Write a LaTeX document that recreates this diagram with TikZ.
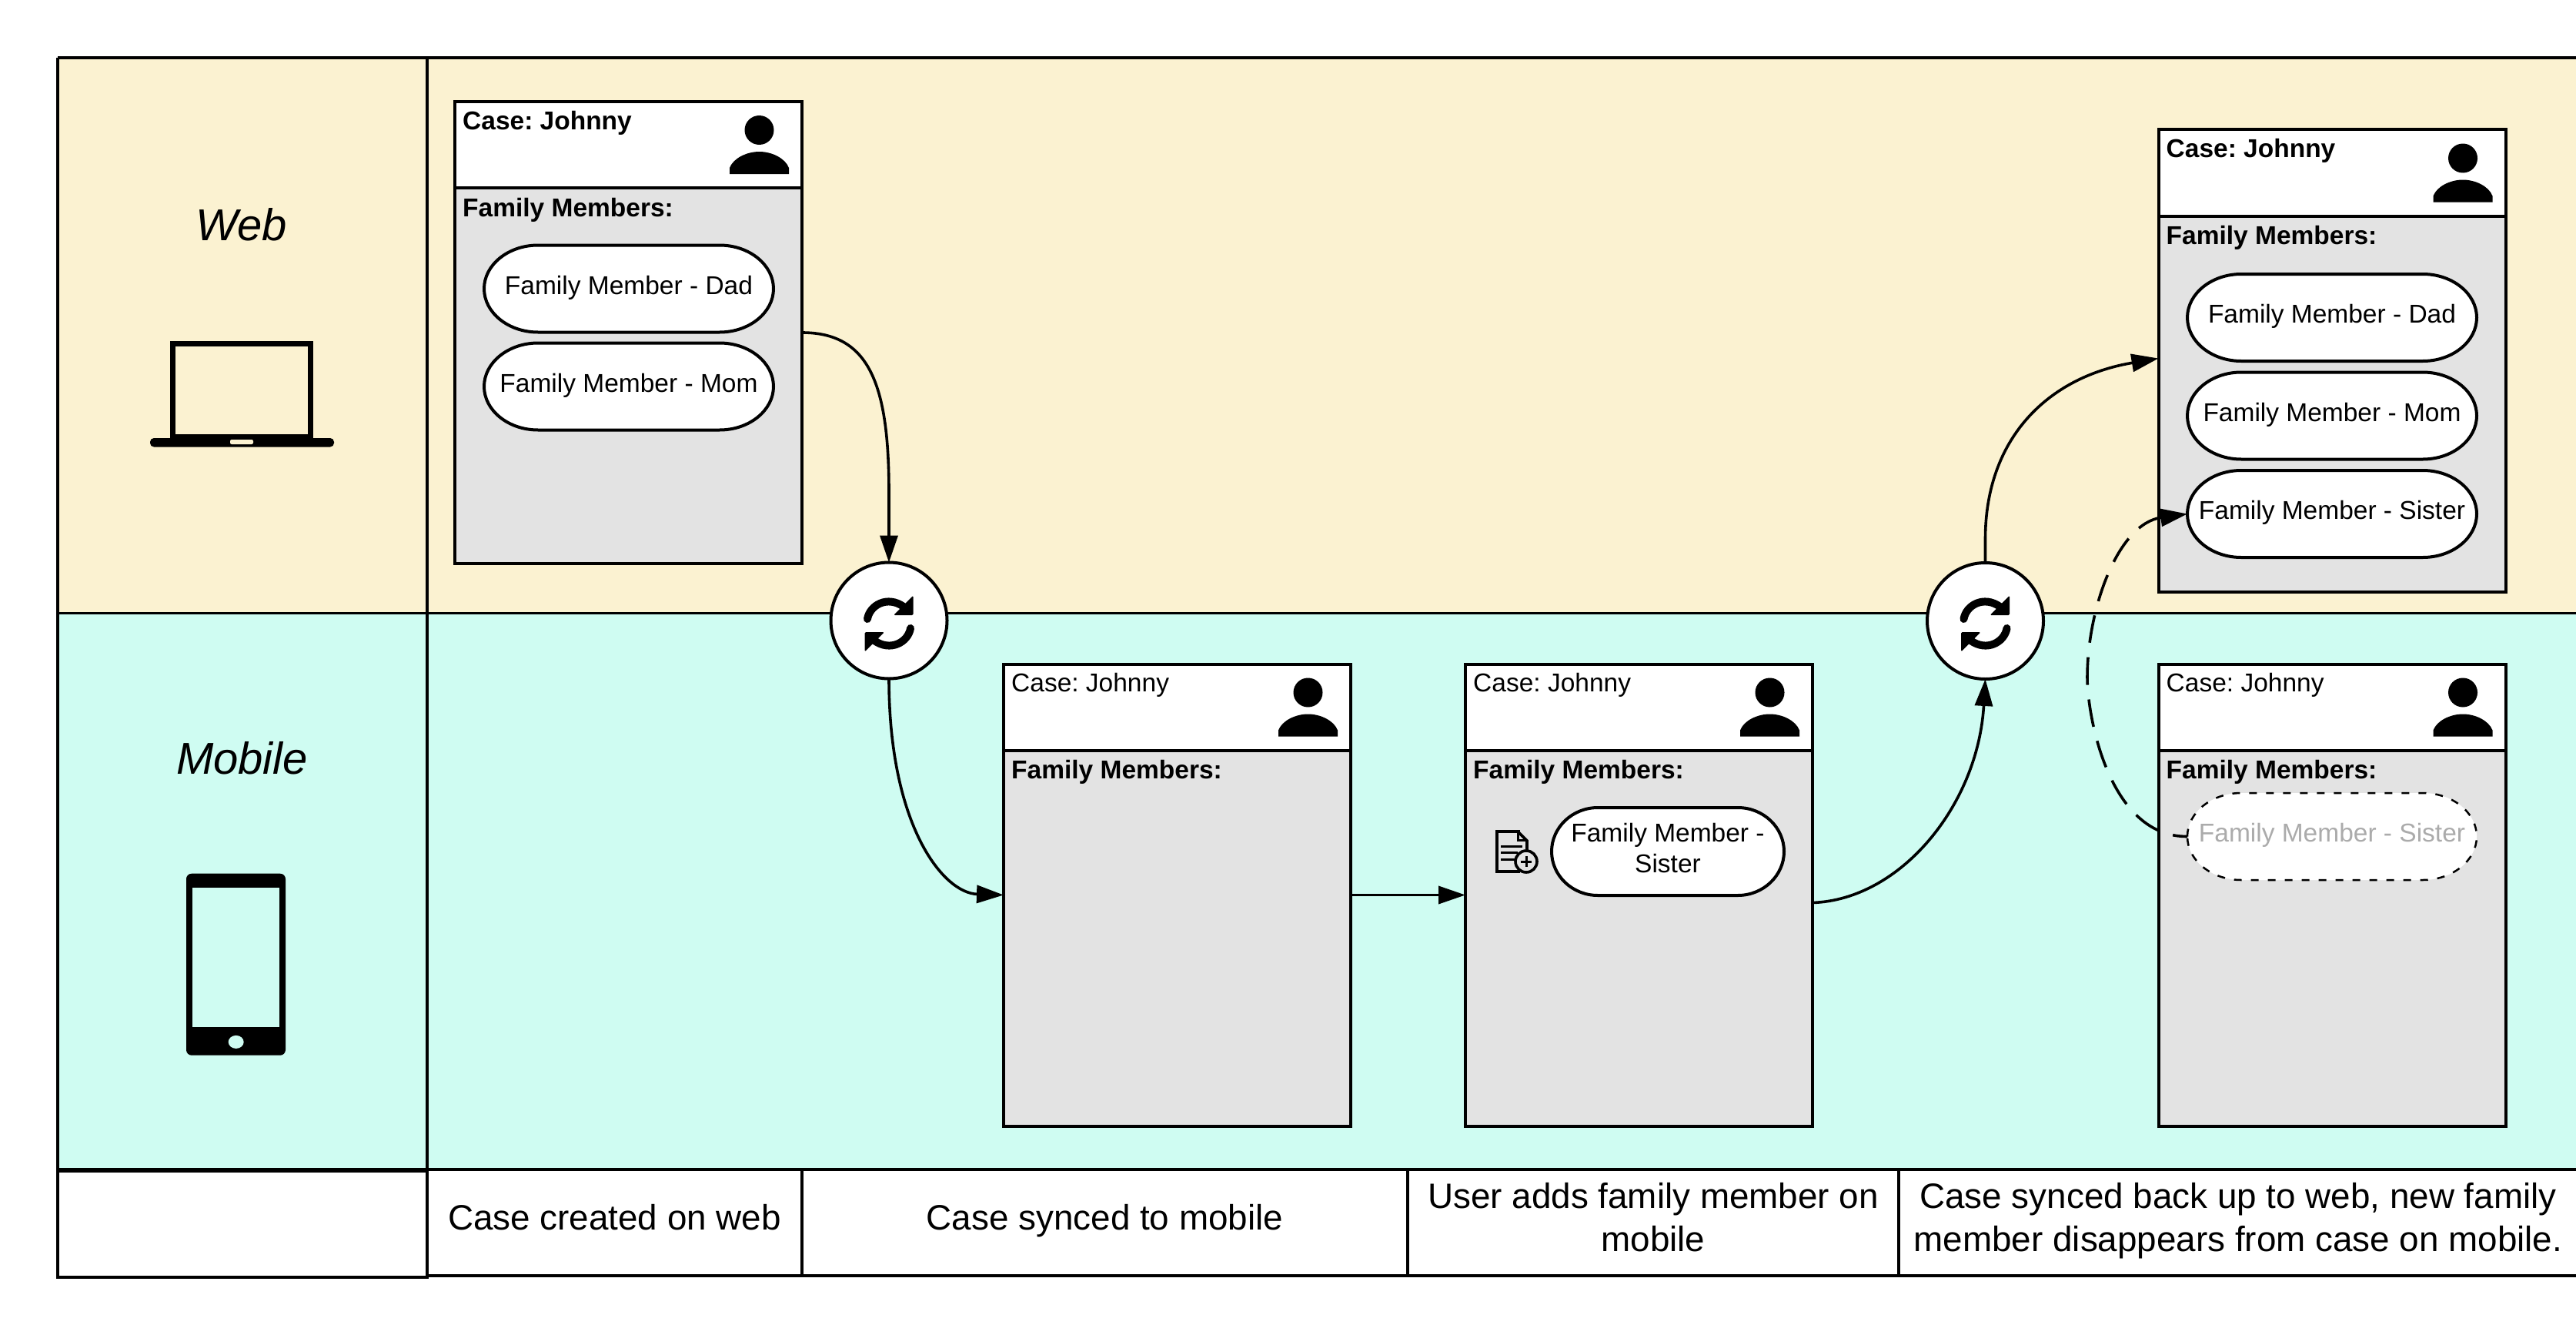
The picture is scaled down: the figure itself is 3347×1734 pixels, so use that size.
\documentclass[tikz,border=0pt]{standalone}
\usepackage{fontspec}
\setmainfont{Liberation Sans}
\frenchspacing
\usetikzlibrary{arrows.meta,calc}
\definecolor{webbg}{HTML}{FBF2D1}
\definecolor{mobbg}{HTML}{CFFCF2}
\definecolor{cardgray}{HTML}{E3E3E3}
\definecolor{ghost}{HTML}{ABABAB}
\newcommand\smallfont{\fontsize{33.5pt}{40pt}\selectfont}
\newcommand\capfont{\fontsize{45.8pt}{56pt}\selectfont}
\newcommand\lanefont{\fontsize{58pt}{68pt}\selectfont\itshape}
\tikzset{
  x=1pt,y=-1pt,
  lane/.style={line width=3.5pt},
  cardbox/.style={draw=black,line width=4pt,fill=cardgray,minimum width=451pt,minimum height=600pt,inner sep=0pt,outer sep=0pt},
  cardhead/.style={draw=black,line width=4pt,fill=white,minimum width=451pt,minimum height=112pt,inner sep=0pt,outer sep=0pt},
  cardtext/.style={anchor=base west,inner sep=0pt,font=\smallfont},
  pilledge/.style={draw=black,line width=4pt,fill=white},
  ghostedge/.style={draw=black,line width=2.5pt,dash pattern=on 10pt off 12pt,fill=white},
  pilltext/.style={inner sep=0pt,outer sep=0pt,font=\smallfont,text height=24pt,text depth=10pt,align=center},
  syncnode/.style={circle,draw=black,line width=4pt,fill=white,minimum size=151pt,inner sep=0pt,outer sep=0pt},
  conn/.style={line width=3.6pt,-{Triangle[length=35pt,width=23pt]}},
  dashconn/.style={conn,dash pattern=on 36pt off 19pt,dash phase=17pt},
  capcell/.style={draw=black,line width=4pt,fill=white,inner sep=0pt,outer sep=0pt,font=\capfont,align=center,minimum height=138pt,text height=33pt,text depth=15pt},
  capcelltwo/.style={capcell,text height=,text depth=},
}
% name, cx, cy, half width, half height, corner x radius, edge style, text options, text
\newcommand\pillnode[9]{%
  \path[#7] (#2-#4,#3) .. controls (#2-#4,#3-0.55*#5) and (#2-#4+0.45*#6,#3-#5) .. (#2-#4+#6,#3-#5)
    -- (#2+#4-#6,#3-#5) .. controls (#2+#4-0.45*#6,#3-#5) and (#2+#4,#3-0.55*#5) .. (#2+#4,#3)
    .. controls (#2+#4,#3+0.55*#5) and (#2+#4-0.45*#6,#3+#5) .. (#2+#4-#6,#3+#5)
    -- (#2-#4+#6,#3+#5) .. controls (#2-#4+0.45*#6,#3+#5) and (#2-#4,#3+0.55*#5) .. (#2-#4,#3) -- cycle;
  \node[pilltext,#8,minimum width=2*#4 pt,minimum height=2*#5 pt] (#1) at (#2,#3) {#9};
}
\newcommand\casecard[4]{%
  \node[cardbox] (#1) at (#2+225.5,#3+300) {};
  \node[cardhead] (#1h) at (#2+225.5,#3+56) {};
  \node[cardtext] (#1t) at (#2+10,#3+36) {#4Case: Johnny};
  \node[cardtext] (#1f) at (#2+10,#3+149) {\bfseries Family Members:};
  \fill[black] (#2+395.5,#3+37) ellipse [x radius=19,y radius=19];
  \fill[black] (#2+357,#3+94) -- (#2+357,#3+86) .. controls (#2+362,#3+73) and (#2+380,#3+65) .. (#2+395.5,#3+65)
     .. controls (#2+411,#3+65) and (#2+429,#3+73) .. (#2+434,#3+86) -- (#2+434,#3+94) -- cycle;
}
\newcommand\syncicon[2]{%
  \begin{scope}[shift={(#1,#2)}]
    \foreach \r in {0,180}{
      \begin{scope}[rotate=\r]
        \draw[line width=10pt,line cap=round] (-28,-6) .. controls (-25,-24) and (-2,-37) .. (19,-22);
        \fill[black,rounded corners=1.5pt] (31.5,-36.5) -- (31.5,-11) -- (6,-11) -- cycle;
      \end{scope}
    }
  \end{scope}
}
\begin{document}
\begin{tikzpicture}
\useasboundingbox (0,0) rectangle (3347,1734);
\fill[white] (0,0) rectangle (3347,1734);
% lanes
\fill[webbg] (75,75) rectangle (3370,796.5);
\fill[mobbg] (75,796.5) rectangle (3370,1519);
\draw[lane] (75,75) -- (3370,75);
\draw[lane] (75,796.5) -- (3370,796.5);
\draw[lane] (75,75) -- (75,1519);
\draw[lane] (555,75) -- (555,1519);
\draw[lane] (75,1519) -- (3370,1519);
% lane labels
\node[font=\lanefont,inner sep=0pt] (webl) at (314,292) {Web};
\node[font=\lanefont,inner sep=0pt] (mobl) at (314.5,985) {Mobile};
% laptop
\draw[line width=7pt] (224.5,569) -- (224.5,446) -- (403,446) -- (403,569);
\fill[black,rounded corners=5pt] (195,569) rectangle (434,580.5);
\fill[black] (221,564) rectangle (407,575);
\fill[webbg,rounded corners=2pt] (299,571) rectangle (329,577);
% phone
\fill[black,rounded corners=7pt] (242,1134.7) rectangle (371,1370.7);
\fill[mobbg] (250,1152.5) rectangle (363,1334);
\fill[mobbg] (306.7,1353.4) ellipse [x radius=10,y radius=8.5];
% caption row
\node[capcell,minimum width=480pt] (cap0) at (315,1590) {};
\node[capcell,minimum width=487pt] (cap1) at (798.5,1588) {Case created on web};
\node[capcell,minimum width=787pt] (cap2) at (1435.5,1588) {Case synced to mobile};
\node[capcelltwo,minimum width=638pt] (cap3) at (2148,1588) {\rule{0pt}{33pt}User adds family member on\\mobile\rule[-15pt]{0pt}{15pt}};
\node[capcelltwo,minimum width=882pt] (cap4) at (2908,1588) {\rule{0pt}{33pt}Case synced back up to web, new family\\member disappears from case on mobile.\rule[-15pt]{0pt}{15pt}};
% cards
\casecard{c1}{591}{132}{\bfseries}
\casecard{c2}{1304}{862.5}{}
\casecard{c3}{1904}{862.5}{}
\casecard{c4}{2804.5}{168.5}{\bfseries}
\casecard{c5}{2804.5}{862.5}{}
% pills
\pillnode{p1}{817}{375}{188}{56.5}{70}{pilledge}{}{Family Member - Dad}
\pillnode{p2}{817}{502}{188}{56.5}{70}{pilledge}{}{Family Member - Mom}
\pillnode{p3}{2167}{1106}{151}{57}{60}{pilledge}{text height=,text depth=}{Family Member -\\Sister\rule[-10pt]{0pt}{10pt}}
\pillnode{p4}{3030}{412.5}{188}{56.5}{70}{pilledge}{}{Family Member - Dad}
\pillnode{p5}{3030}{540}{188}{56.5}{70}{pilledge}{}{Family Member - Mom}
\pillnode{p6}{3030}{667.5}{188}{56.5}{70}{pilledge}{}{Family Member - Sister}
\pillnode{p7}{3030}{1086.5}{188}{56.5}{70}{ghostedge}{text=ghost}{Family Member - Sister}
% add-document icon
\draw[line width=3.6pt,line join=miter] (1975,1080) -- (1945,1080) -- (1945,1132) -- (1975,1132);
\draw[line width=3.6pt] (1972,1080) -- (1984,1092) -- (1984,1104);
\draw[line width=3pt] (1972,1080) -- (1972,1091) -- (1984,1091);
\draw[line width=3pt] (1950,1099) -- (1978,1099) (1950,1107.5) -- (1972,1107.5) (1950,1116) -- (1968,1116);
\draw[line width=3.6pt,fill=cardgray] (1983,1119) circle [radius=14];
\draw[line width=3pt] (1976,1119) -- (1990,1119) (1983,1112) -- (1983,1126);
% sync nodes
\node[syncnode] (s1) at (1155,806) {};
\node[syncnode] (s2) at (2579.5,806.5) {};
\syncicon{1155}{810}
\syncicon{2579.5}{810}
% connectors
\draw[conn] (c1.east) .. controls +(88,0) and (1155,500) .. (1155,640) -- (s1.north);
\draw[conn] (s1.south) .. controls +(0,190) and (1225,1160) .. (c2.west);
\draw[conn] (c2.east) -- (c3.west);
\draw[conn] ([yshift=-10pt]c3.east) .. controls +(115,-4) and (2570,1045) .. (s2.south);
\draw[conn] (s2.north) -- (2579.5,700) .. controls (2579.5,570) and (2660,490) .. ([yshift=3pt]c4.west);
\coordinate (dmid) at (2712,880);
\draw[dashconn] (p7.west) .. controls (2740,1087) and (2712,930) .. (dmid) .. controls (2712,790) and (2752,680) .. (p6.west);
\end{tikzpicture}
\end{document}
